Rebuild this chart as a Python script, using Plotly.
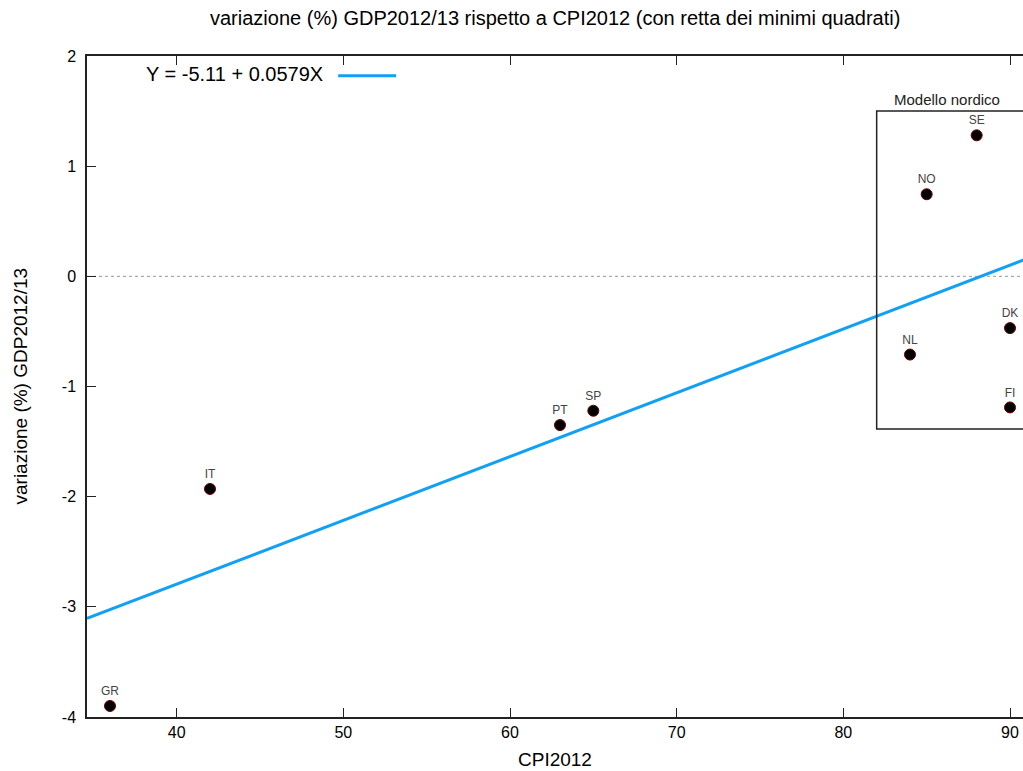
import plotly.graph_objects as go

# Data
countries = ["GR", "IT", "PT", "SP", "NL", "NO", "SE", "DK", "FI"]
cpi2012 = [36, 42, 63, 65, 84, 85, 88, 90, 90]
gdp_var = [-3.9, -1.93, -1.35, -1.22, -0.71, 0.745, 1.28, -0.47, -1.19]

# least squares line coefficients
intercept = -5.11
slope = 0.0579

x_range = [34.62, 90.78]
y_range = [-4, 2]
x_ticks = [40, 50, 60, 70, 80, 90]
y_ticks = [-4, -3, -2, -1, 0, 1, 2]
y_ticktext = ["-4", "-3", "-2", "-1", "0", "1", "2"]

# Nordic model box
box_x0, box_x1 = 82, 96
box_y0, box_y1 = -1.385, 1.5

font_main = "Liberation Sans, Arial, sans-serif"

fig = go.Figure()

fit_x = [x_range[0], x_range[1] + 2]
fit_y = [intercept + slope * v for v in fit_x]
fig.add_trace(go.Scatter(
    x=fit_x, y=fit_y, mode="lines",
    line=dict(color="#12a0f5", width=3),
    showlegend=False, hoverinfo="skip",
))

fig.add_trace(go.Scatter(
    x=cpi2012, y=gdp_var, mode="markers+text",
    text=countries, textposition="top center",
    textfont=dict(family=font_main, size=12, color="#444444"),
    marker=dict(size=11, color="black", line=dict(color="#660000", width=1)),
    showlegend=False,
))

fig.update_layout(
    width=1023, height=771,
    margin=dict(l=87, r=0, t=56, b=54),
    paper_bgcolor="white", plot_bgcolor="white",
    font=dict(family=font_main, size=15, color="black"),
    showlegend=False,
    shapes=[
        dict(type="line", xref="paper", yref="y", x0=0, x1=1, y0=0, y1=0,
             line=dict(color="#999999", width=1, dash="dot"), layer="below"),
        dict(type="rect", xref="x", yref="y", x0=box_x0, x1=box_x1, y0=box_y0, y1=box_y1,
             line=dict(color="#222222", width=1.5)),
        dict(type="line", xref="x", yref="y",
             x0=x_range[0] + 15.07, x1=x_range[0] + 18.55, y0=1.82, y1=1.82,
             line=dict(color="#12a0f5", width=3)),
    ],
    annotations=[
        dict(text="variazione (%) GDP2012/13 rispetto a CPI2012 (con retta dei minimi quadrati)",
             xref="paper", yref="paper", x=0.5, y=1, yshift=38, showarrow=False,
             font=dict(size=20), xanchor="center", yanchor="middle"),
        dict(text="CPI2012", xref="paper", yref="paper", x=0.5, y=0, yshift=-42,
             showarrow=False, font=dict(size=19), xanchor="center", yanchor="middle"),
        dict(text="variazione (%) GDP2012/13", xref="paper", yref="paper", x=0, xshift=-67,
             y=0.5, showarrow=False, textangle=-90, font=dict(size=19),
             xanchor="center", yanchor="middle"),
        dict(text="Y = -5.11 + 0.0579X", xref="x", yref="y", x=x_range[0] + 14.3, y=1.84,
             showarrow=False, xanchor="right", yanchor="middle", font=dict(size=20)),
        dict(text="Modello nordico", xref="x", yref="y", x=86.2, y=1.605,
             showarrow=False, xanchor="center", yanchor="middle",
             font=dict(size=15, color="#222222")),
    ],
)

fig.update_xaxes(
    range=x_range, tickvals=x_ticks, ticks="inside", ticklen=9, tickwidth=1,
    tickcolor="#222222", showline=True, linecolor="#222222", linewidth=1.5,
    mirror="ticks", showgrid=False, zeroline=False, tickfont=dict(size=16),
)
fig.update_yaxes(
    range=y_range, tickvals=y_ticks, ticktext=y_ticktext, ticks="inside", ticklen=9,
    tickwidth=1, tickcolor="#222222", showline=True, linecolor="#222222", linewidth=1.5,
    mirror=False, showgrid=False, zeroline=False, tickfont=dict(size=16),
    ticklabelstandoff=6,
)

fig.write_html("out.html")
